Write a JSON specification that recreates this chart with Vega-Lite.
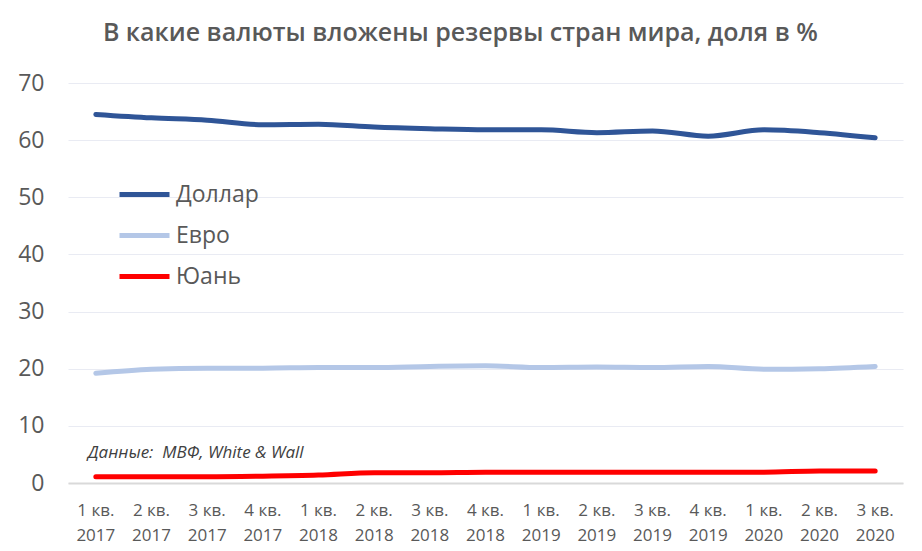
{
  "$schema": "https://vega.github.io/schema/vega-lite/v6.json",
  "width": 835,
  "height": 400,
  "autosize": {"type": "none"},
  "padding": {"left": 68, "top": 83, "right": 19, "bottom": 68},
  "background": "white",
  "config": {
    "view": {"stroke": null},
    "font": "Open Sans"
  },
  "title": {
    "text": "В какие валюты вложены резервы стран мира, доля в %",
    "font": "Open Sans",
    "fontSize": 25,
    "fontWeight": 600,
    "color": "#595959",
    "anchor": "middle",
    "frame": "bounds",
    "offset": 26
  },
  "datasets": {
    "series": [
      {"q": "1 кв. 2017", "cur": "Доллар", "v": 64.5},
      {"q": "2 кв. 2017", "cur": "Доллар", "v": 63.9},
      {"q": "3 кв. 2017", "cur": "Доллар", "v": 63.5},
      {"q": "4 кв. 2017", "cur": "Доллар", "v": 62.7},
      {"q": "1 кв. 2018", "cur": "Доллар", "v": 62.8},
      {"q": "2 кв. 2018", "cur": "Доллар", "v": 62.3},
      {"q": "3 кв. 2018", "cur": "Доллар", "v": 62.0},
      {"q": "4 кв. 2018", "cur": "Доллар", "v": 61.8},
      {"q": "1 кв. 2019", "cur": "Доллар", "v": 61.8},
      {"q": "2 кв. 2019", "cur": "Доллар", "v": 61.3},
      {"q": "3 кв. 2019", "cur": "Доллар", "v": 61.6},
      {"q": "4 кв. 2019", "cur": "Доллар", "v": 60.7},
      {"q": "1 кв. 2020", "cur": "Доллар", "v": 61.8},
      {"q": "2 кв. 2020", "cur": "Доллар", "v": 61.3},
      {"q": "3 кв. 2020", "cur": "Доллар", "v": 60.4},
      {"q": "1 кв. 2017", "cur": "Евро", "v": 19.2},
      {"q": "2 кв. 2017", "cur": "Евро", "v": 19.9},
      {"q": "3 кв. 2017", "cur": "Евро", "v": 20.1},
      {"q": "4 кв. 2017", "cur": "Евро", "v": 20.1},
      {"q": "1 кв. 2018", "cur": "Евро", "v": 20.2},
      {"q": "2 кв. 2018", "cur": "Евро", "v": 20.2},
      {"q": "3 кв. 2018", "cur": "Евро", "v": 20.4},
      {"q": "4 кв. 2018", "cur": "Евро", "v": 20.5},
      {"q": "1 кв. 2019", "cur": "Евро", "v": 20.2},
      {"q": "2 кв. 2019", "cur": "Евро", "v": 20.3},
      {"q": "3 кв. 2019", "cur": "Евро", "v": 20.2},
      {"q": "4 кв. 2019", "cur": "Евро", "v": 20.4},
      {"q": "1 кв. 2020", "cur": "Евро", "v": 19.9},
      {"q": "2 кв. 2020", "cur": "Евро", "v": 20.0},
      {"q": "3 кв. 2020", "cur": "Евро", "v": 20.4},
      {"q": "1 кв. 2017", "cur": "Юань", "v": 1.1},
      {"q": "2 кв. 2017", "cur": "Юань", "v": 1.1},
      {"q": "3 кв. 2017", "cur": "Юань", "v": 1.1},
      {"q": "4 кв. 2017", "cur": "Юань", "v": 1.2},
      {"q": "1 кв. 2018", "cur": "Юань", "v": 1.4},
      {"q": "2 кв. 2018", "cur": "Юань", "v": 1.8},
      {"q": "3 кв. 2018", "cur": "Юань", "v": 1.8},
      {"q": "4 кв. 2018", "cur": "Юань", "v": 1.9},
      {"q": "1 кв. 2019", "cur": "Юань", "v": 1.9},
      {"q": "2 кв. 2019", "cur": "Юань", "v": 1.9},
      {"q": "3 кв. 2019", "cur": "Юань", "v": 1.9},
      {"q": "4 кв. 2019", "cur": "Юань", "v": 1.9},
      {"q": "1 кв. 2020", "cur": "Юань", "v": 1.9},
      {"q": "2 кв. 2020", "cur": "Юань", "v": 2.1},
      {"q": "3 кв. 2020", "cur": "Юань", "v": 2.1}
    ],
    "note": [
      {"q": "1 кв. 2017", "v": 5.2, "text": "Данные:\u00a0 МВФ, White & Wall"}
    ]
  },
  "layer": [
    {
      "data": {"name": "series"},
      "mark": {"type": "line", "strokeWidth": 5, "strokeCap": "round", "interpolate": "monotone"},
      "encoding": {
        "x": {
          "field": "q", "type": "ordinal", "sort": null,
          "scale": {"type": "band", "paddingInner": 0, "paddingOuter": 0},
          "axis": {
            "title": null,
            "labelAngle": 0,
            "labelExpr": "[slice(datum.value,0,5), slice(datum.value,6)]",
            "labelFontSize": 17,
            "labelLineHeight": 25,
            "labelColor": "#595959",
            "labelPadding": 19,
            "ticks": false,
            "domainColor": "#D9D9D9",
            "domainWidth": 2,
            "grid": false
          }
        },
        "y": {
          "field": "v", "type": "quantitative",
          "scale": {"domain": [0, 70]},
          "axis": {
            "title": null,
            "values": [0, 10, 20, 30, 40, 50, 60, 70],
            "labelFontSize": 23,
            "labelColor": "#595959",
            "labelPadding": 24,
            "ticks": false,
            "domain": false,
            "gridColor": "#E9EBF3",
            "gridWidth": 1
          }
        },
        "color": {
          "field": "cur", "type": "nominal",
          "scale": {"domain": ["Доллар", "Евро", "Юань"], "range": ["#2F5597", "#B4C7E7", "#FF0000"]},
          "legend": {
            "title": null,
            "orient": "none",
            "legendX": 49,
            "legendY": 84,
            "symbolType": "stroke",
            "symbolSize": 2500,
            "symbolStrokeWidth": 5,
            "labelFontSize": 23,
            "labelColor": "#595959",
            "labelOffset": 4,
            "rowPadding": 1,
            "labelFont": "Open Sans"
          }
        }
      }
    },
    {
      "data": {"name": "note"},
      "mark": {"type": "text", "align": "left", "baseline": "middle", "fontStyle": "italic", "fontSize": 17, "color": "#404040", "dx": -8},
      "encoding": {
        "x": {"field": "q", "type": "ordinal", "sort": null},
        "y": {"field": "v", "type": "quantitative"},
        "text": {"field": "text"}
      }
    }
  ]
}
